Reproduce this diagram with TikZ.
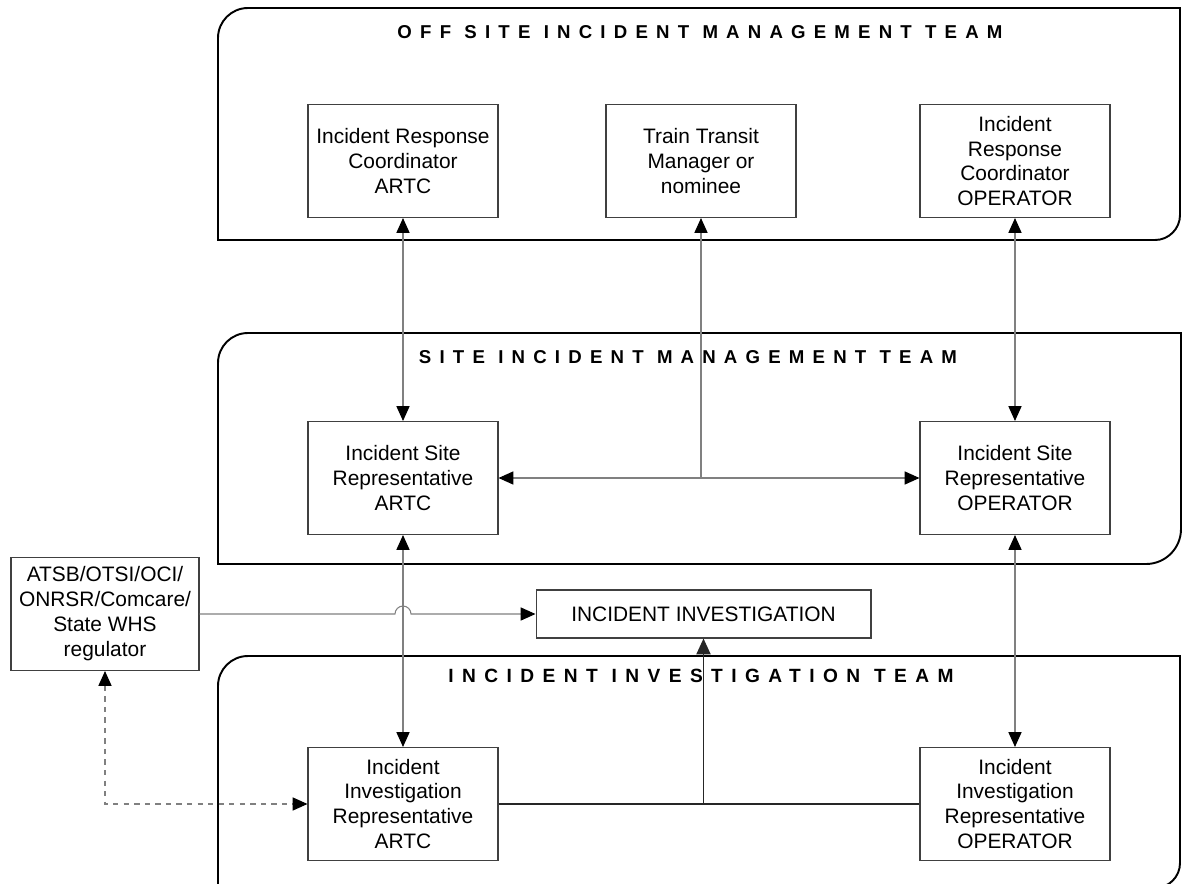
\documentclass[tikz,border=0pt]{standalone}
\usepackage{fontspec}
\setmainfont{Liberation Sans}
\newfontfamily\teamfont[LetterSpace=44]{Liberation Sans}
\usetikzlibrary{arrows.meta, positioning}

\begin{document}
\begin{tikzpicture}[x=0.02cm, y=-0.02cm,
    box/.style={draw=black!75, line width=0.6pt, align=center,
        font=\fontsize{11.9}{14.2}\selectfont,
        minimum width=3.8cm, minimum height=2.26cm, inner sep=1pt},
    team/.style={draw=black, line width=1.1pt},
    teamtitle/.style={font=\teamfont\fontsize{10.6}{13}\bfseries, inner sep=0pt},
    link/.style={draw=black!50, line width=0.6pt,
        {Triangle[length=8.5pt,width=7.5pt,color=black]}-{Triangle[length=8.5pt,width=7.5pt,color=black]}},
    uplink/.style={draw=black!50, line width=0.6pt,
        -{Triangle[length=8.5pt,width=7.5pt,color=black]}},
    invlink/.style={draw=black!85, line width=1pt}]

\useasboundingbox (0,0) rectangle (1187,883);

% Team frames
\draw[team] (218,240) [rounded corners=0.6cm] -- (218,8) [sharp corners] -- (1180,8)
    [rounded corners=0.5cm] -- (1180,240) [sharp corners] -- cycle;
\draw[team] (218,564) [rounded corners=0.6cm] -- (218,333) [sharp corners] -- (1181,333)
    [rounded corners=0.7cm] -- (1181,564) [sharp corners] -- cycle;
\draw[team] (218,888) [rounded corners=0.6cm] -- (218,656) [sharp corners] -- (1180,656)
    [rounded corners=0.5cm] -- (1180,888) [sharp corners] -- cycle;

\node[teamtitle] (offsite) at (700,32) {OFF SITE INCIDENT MANAGEMENT TEAM};
\node[teamtitle] (onsite) at (688,357) {SITE INCIDENT MANAGEMENT TEAM};
\node[teamtitle, font=\teamfont\fontsize{10.9}{13}\bfseries] (invteam) at (701,676) {INCIDENT INVESTIGATION TEAM};

% Off site
\node[box] (coordARTC) at (403,161) {Incident Response\\Coordinator\\ARTC};

\node[box,
    right=2.14cm of coordARTC
] (transit) {Train Transit\\Manager or\\nominee};

\node[box,
    right=2.46cm of transit
] (coordOP) {Incident\\Response\\Coordinator\\OPERATOR};

% Site
\node[box,
    below=4.06cm of coordARTC
] (siteARTC) {Incident Site\\Representative\\ARTC};

\node[box,
    below=4.06cm of coordOP
] (siteOP) {Incident Site\\Representative\\OPERATOR};

% Investigation
\node[box,
    below=4.24cm of siteARTC
] (invARTC) {Incident\\Investigation\\Representative\\ARTC};

\node[box,
    below=4.24cm of siteOP
] (invOP) {Incident\\Investigation\\Representative\\OPERATOR};

\node[box,
    minimum width=6.7cm,
    minimum height=0.96cm
] (investigation) at (703.5,614) {INCIDENT INVESTIGATION};

\node[box,
    minimum width=3.76cm
] (regulator) at (105,614) {ATSB/OTSI/OCI/\\ONRSR/Comcare/\\State WHS\\regulator};

\coordinate (join1) at (transit.south |- siteARTC.east);
\coordinate (join2) at (investigation.south |- invARTC.east);
\coordinate (hop) at (siteARTC.south |- investigation.west);

% Arrows
\draw[link] (coordARTC) -- (siteARTC);
\draw[link] (coordOP) -- (siteOP);
\draw[link] (siteARTC) -- (siteOP);
\draw[uplink] (join1) -- (transit);
\draw[link] (siteARTC) -- (invARTC);
\draw[link] (siteOP) -- (invOP);

\draw[invlink] (invARTC) -- (invOP);
\draw[invlink, -{Triangle[length=9pt,width=8pt]}] (join2) -- (investigation.south);

\draw[uplink] (regulator.east) -- ([xshift=-0.16cm]hop)
    arc[start angle=180, end angle=0, radius=0.16cm] -- (investigation);

\draw[link, dashed] (regulator) |- (invARTC);

\end{tikzpicture}
\end{document}
